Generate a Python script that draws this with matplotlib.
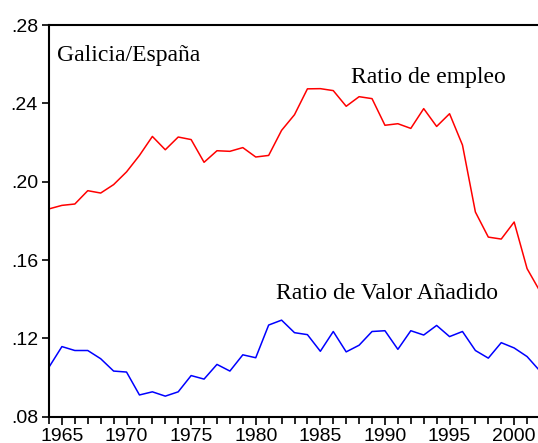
import matplotlib
matplotlib.use("Agg")
import matplotlib.pyplot as plt
from matplotlib.ticker import MultipleLocator

years = list(range(1964, 2003))

# Galicia / Spain employment ratio
empleo = [0.1861, 0.1879, 0.1886, 0.1954, 0.1942, 0.1985, 0.2050, 0.2134,
          0.2231, 0.2163, 0.2228, 0.2215, 0.2099, 0.2158, 0.2155, 0.2174,
          0.2126, 0.2134, 0.2262, 0.2342, 0.2474, 0.2475, 0.2465, 0.2385,
          0.2434, 0.2424, 0.2288, 0.2296, 0.2272, 0.2373, 0.2282, 0.2347,
          0.2187, 0.1845, 0.1717, 0.1707, 0.1794, 0.1556, 0.1440]

# Galicia / Spain value added ratio
valor = [0.1053, 0.1158, 0.1138, 0.1138, 0.1096, 0.1033, 0.1028, 0.0911,
         0.0927, 0.0905, 0.0927, 0.1010, 0.0992, 0.1067, 0.1033, 0.1116,
         0.1101, 0.1268, 0.1293, 0.1229, 0.1219, 0.1134, 0.1235, 0.1131,
         0.1165, 0.1235, 0.1239, 0.1144, 0.1239, 0.1217, 0.1266, 0.1209,
         0.1235, 0.1138, 0.1099, 0.1178, 0.1151, 0.1107, 0.1033]

yticks = [0.08, 0.12, 0.16, 0.20, 0.24, 0.28]
ylabels = [".08", ".12", ".16", ".20", ".24", ".28"]

fig = plt.figure(figsize=(5.38, 4.43), dpi=100)
ax = fig.add_axes([49 / 538, 1 - 416.7 / 443, (540 - 49) / 538, (416.7 - 25) / 443])

ax.plot(years, empleo, color="#ff0000", lw=1.1)
ax.plot(years, valor, color="#0000ff", lw=1.1)

ax.set_xlim(1964, 2002)
ax.set_ylim(0.08, 0.28)

ax.xaxis.set_major_locator(MultipleLocator(5))
ax.xaxis.set_minor_locator(MultipleLocator(1))
ax.set_yticks(yticks)
ax.set_yticklabels(ylabels)

ax.tick_params(axis="both", which="major", direction="out", length=6, width=1.2,
               labelsize=14, labelfontfamily="Liberation Sans", pad=2)
ax.tick_params(axis="x", which="minor", direction="out", length=5, width=1.2)
ax.tick_params(axis="y", which="major", length=5, pad=3)
ax.tick_params(axis="y", which="minor", left=False)

for s in ["left", "bottom", "top"]:
    ax.spines[s].set_linewidth(1.5)
ax.spines["right"].set_visible(False)

serif = "Liberation Serif"
ax.text(1964.6, 0.2616, "Galicia/España", fontsize=17, family=serif, va="baseline")
ax.text(1987.4, 0.2504, "Ratio de empleo", fontsize=17, family=serif, va="baseline")
ax.text(1981.55, 0.1400, "Ratio de Valor Añadido", fontsize=17, family=serif, va="baseline")

fig.savefig("out.png", dpi=100)
